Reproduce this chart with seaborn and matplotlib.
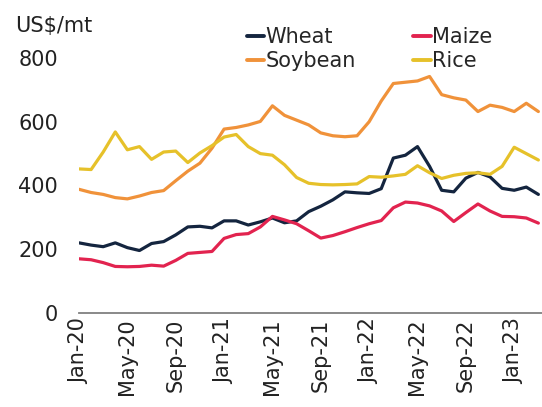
import numpy as np
import pandas as pd
import matplotlib
matplotlib.use("Agg")
import matplotlib.pyplot as plt
import seaborn as sns

# monthly prices, Jan-20 .. Mar-23 (US$/mt)
months = pd.date_range("2020-01-01", periods=39, freq="MS").strftime("%b-%y").tolist()

wheat = [220, 213, 208, 220, 205, 196, 218, 224, 245, 270,
         272, 267, 289, 289, 276, 286, 298, 283, 289, 318,
         335, 355, 380, 377, 375, 390, 486, 495, 522, 460,
         385, 380, 423, 441, 427, 391, 385, 395, 372]
maize = [170, 167, 158, 146, 145, 146, 150, 147, 165, 187,
         190, 193, 234, 246, 249, 270, 303, 292, 280, 258,
         235, 243, 255, 268, 280, 290, 330, 348, 345, 336,
         320, 287, 315, 342, 320, 303, 302, 298, 282]
soybean = [388, 378, 372, 362, 358, 367, 378, 384, 415, 445,
           470, 517, 577, 582, 590, 601, 650, 620, 605, 590,
           565, 556, 553, 556, 600, 665, 720, 724, 728, 742,
           685, 675, 668, 632, 652, 645, 632, 658, 632]
rice = [452, 450, 505, 568, 512, 522, 482, 505, 508, 472,
        502, 525, 552, 560, 522, 500, 495, 465, 425, 407,
        403, 402, 403, 405, 428, 426, 430, 435, 462, 440,
        422, 432, 438, 440, 435, 460, 520, 500, 480]

series = {"Wheat": wheat, "Soybean": soybean, "Maize": maize, "Rice": rice}
colors = {"Wheat": "#14253f", "Soybean": "#f0923a", "Maize": "#e2234f", "Rice": "#e6c12a"}

df = pd.concat(
    [pd.DataFrame({"m": np.arange(len(months)), "price": v, "crop": k}) for k, v in series.items()],
    ignore_index=True,
)

sns.set_style("white")
plt.rcParams["font.family"] = ["DejaVu Sans"]

fig = plt.figure(figsize=(5.42, 4.07), dpi=100)
ax = fig.add_axes([0.1458, 0.231, 0.8542, 0.6265])

sns.lineplot(data=df, x="m", y="price", hue="crop", palette=colors,
             linewidth=2.3, ax=ax, legend=False)

ax.set_xlim(0, 38.3)
ax.set_ylim(0, 800)
ax.set_yticks([0, 200, 400, 600, 800])
ax.set_xticks(np.arange(0, len(months), 4))
ax.set_xticklabels(months[::4], rotation=90)
ax.tick_params(axis="y", length=0, pad=15, labelsize=15, colors="#222222")
ax.tick_params(axis="x", length=0, pad=4, labelsize=15, colors="#222222")
ax.set_xlabel("")
ax.set_ylabel("")
for s in ["top", "right", "left"]:
    ax.spines[s].set_visible(False)
ax.spines["bottom"].set_color("#808080")
ax.spines["bottom"].set_linewidth(1.3)

fig.text(0.028, 0.935, "US$/mt", fontsize=15, color="#222222", va="center", ha="left")

handles = [plt.Line2D([], [], color=colors[k], linewidth=2.8) for k in series]
fig.legend(handles, list(series.keys()), loc="upper left", bbox_to_anchor=(0.455, 0.934),
           ncol=2, frameon=False, fontsize=15, handlelength=0.85, handletextpad=0.05,
           columnspacing=2.75, labelspacing=0.2, borderpad=0, borderaxespad=0)

fig.savefig("out.png", dpi=100)
